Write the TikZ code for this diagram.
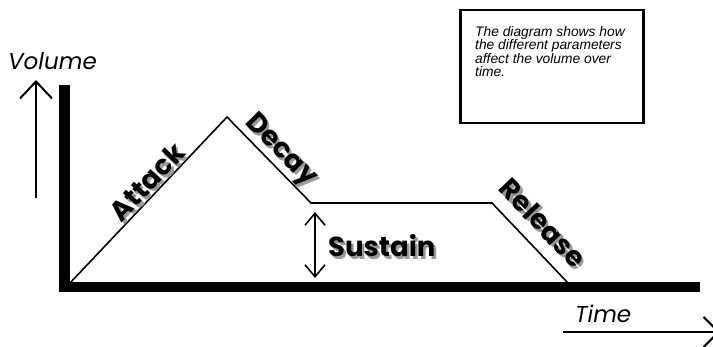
\documentclass[tikz,border=0pt]{standalone}
\usepackage{fontspec}
\setmainfont{Liberation Sans}
\newfontfamily\geofont{Poppins}
\newfontfamily\notefont{Liberation Sans Italic}
\usetikzlibrary{arrows.meta}
\begin{document}
\begin{tikzpicture}[x=1pt,y=-1pt,
  env/.style={line width=1.6pt, line join=miter},
  arr/.style={line width=2pt},
  lbl/.style={font=\geofont\bfseries\fontsize{27.5}{27.5}\selectfont, inner sep=0pt},
  shade/.style={lbl, text=black!40},
  ital/.style={font=\geofont\itshape\fontsize{23}{23}\selectfont, inner sep=0pt},
  boxtext/.style={font=\notefont\fontsize{13.8}{14}\selectfont, inner sep=0pt, anchor=base west},
]
\useasboundingbox (0,0) rectangle (713,347);
% axes bars
\fill (59,85) rectangle (70,292);
\fill (59,282) rectangle (700,292);
% envelope
\coordinate (a0) at (70,283);
\coordinate (pk) at (227,117);
\coordinate (sd) at (311,203);
\coordinate (rl) at (492,203);
\coordinate (re) at (568,283);
\draw[env] (a0) -- (pk) -- (sd) -- (rl) -- (re);
% volume arrow
\coordinate (vb) at (36,198);
\coordinate (vt) at (36,80);
\draw[arr, -{Straight Barb[length=17pt,width=32pt]}] (vb) -- (vt);
% sustain arrow
\coordinate (st) at (315,212);
\coordinate (sb) at (315,278);
\draw[line width=1.6pt, {Straight Barb[length=12pt,width=20pt]}-{Straight Barb[length=12pt,width=20pt]}] (sb) -- (st);
% time arrow
\coordinate (t0) at (563,332);
\coordinate (t1) at (720,332);
\draw[arr, -{Straight Barb[length=15pt,width=30pt]}] (t0) -- (t1);
% texts
\node[ital, anchor=base west] (vol) at (8,70) {Volume};
\node[ital, anchor=base west] (time) at (575,323) {Time};
\node[draw, line width=2.5pt, minimum width=183pt, minimum height=113pt, anchor=north west, inner sep=0pt] (box) at (459,9) {};
\node[boxtext] (note1) at (475,36.7) {The diagram shows how};
\node[boxtext] (note2) at (475,50) {the different parameters};
\node[boxtext] (note3) at (475,63.3) {affect the volume over};
\node[boxtext] (note4) at (475,76.6) {time.};
% labels with shadows
\node[shade, rotate=46.6] (atks) at (149.5,184.5) {Attack};
\node[lbl, rotate=46.6] (atk) at (147,182) {Attack};
\node[shade, rotate=-45] (decs) at (282.5,153.5) {Decay};
\node[lbl, rotate=-45] (dec) at (280,151) {Decay};
\node[shade, rotate=-46.5] (rels) at (545.5,225.5) {Release};
\node[lbl, rotate=-46.5] (rel) at (543,223) {Release};
\node[shade, anchor=base west] (suss) at (330.5,259.5) {Sustain};
\node[lbl, anchor=base west] (sus) at (328,257) {Sustain};
\end{tikzpicture}
\end{document}
